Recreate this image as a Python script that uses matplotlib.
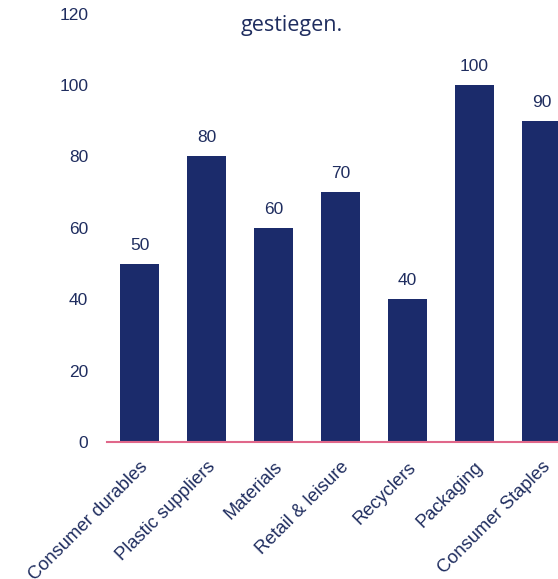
import matplotlib
matplotlib.use("Agg")
import matplotlib.pyplot as plt

categories = ["Consumer durables", "Plastic suppliers", "Materials", "Retail & leisure",
              "Recyclers", "Packaging", "Consumer Staples"]
values = [50, 80, 60, 70, 40, 100, 90]
yticks = [0, 20, 40, 60, 80, 100, 120]

navy = "#1b2b6b"
text_col = "#1f2d5f"
pink = "#e0678a"

plt.rcParams['font.family'] = ['Liberation Sans', 'DejaVu Sans']

fig = plt.figure(figsize=(5.58, 5.79), dpi=100)
ax = fig.add_axes([107 / 558, 137 / 579, 451 / 558, 428.4 / 579])

x = range(len(categories))
bars = ax.bar(x, values, width=0.58, color=navy, zorder=2)
for b, v in zip(bars, values):
    ax.annotate(str(v), (b.get_x() + b.get_width() / 2, v), xytext=(0, 11),
                textcoords="offset pixels", ha="center", va="bottom",
                fontsize=12.5, color=text_col)

ax.set_xlim(-0.485, 6.246)
ax.set_ylim(0, 120)
ax.set_yticks(yticks)
ax.set_yticklabels([str(t) for t in yticks], fontsize=12.5, color=text_col)
ax.set_xticks(list(x))
ax.set_xticklabels(categories, rotation=45, ha="right", rotation_mode="anchor",
                   fontsize=13.2, color=text_col)
ax.tick_params(axis="y", length=0, pad=13.5)
ax.tick_params(axis="x", length=0, pad=12)
for side in ["top", "right", "left"]:
    ax.spines[side].set_visible(False)
ax.spines["bottom"].set_color(pink)
ax.spines["bottom"].set_linewidth(1.5)
ax.spines["bottom"].set_zorder(3)

# title: its first line sits almost entirely above the canvas, as in the reference
title_font = ["Open Sans", "DejaVu Sans"]
fig.text(292 / 558, 1 + 5.5 / 579, "Die Anzahl der Unternehmen in allen Sektoren ist",
         ha="center", va="center", fontsize=15.5, color=text_col, family=title_font)
fig.text(292 / 558, 1 - 26 / 579, "gestiegen.",
         ha="center", va="center", fontsize=15.5, color=text_col, family=title_font)

fig.savefig("out.png", dpi=100)
